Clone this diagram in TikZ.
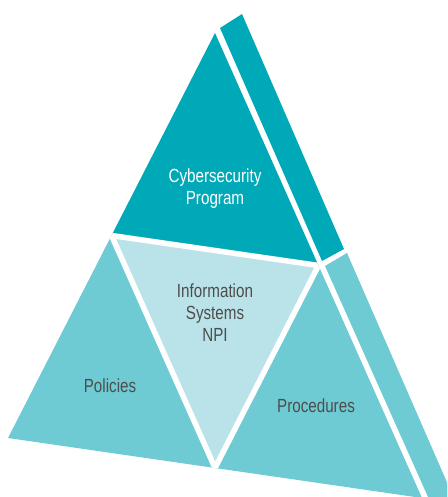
\documentclass[tikz,border=0pt]{standalone}
\usepackage{fontspec}
\setmainfont{Liberation Sans}[FakeStretch=0.8]
\definecolor{tealdark}{RGB}{0,169,183}
\definecolor{tealmid}{RGB}{110,203,211}
\definecolor{teallight}{RGB}{186,227,233}
\definecolor{labelgray}{RGB}{77,77,77}
\begin{document}
\begin{tikzpicture}[x=1pt,y=-1pt,
  gapline/.style={draw=white,line width=5.5pt,line join=round},
  darklabel/.style={text=labelgray,font=\fontsize{19}{22}\selectfont,align=center},
  lightlabel/.style={text=white,font=\fontsize{19}{22}\selectfont,align=center}]
  \useasboundingbox (0,0) rectangle (447,497);
  \clip (0,0) rectangle (447,497);
  % outer corners of the pyramid face and the midpoints of its sides
  \coordinate (A) at (215,33);
  \coordinate (B) at (8,438);
  \coordinate (C) at (422,498);
  \coordinate (mAB) at (111.5,235.5);
  \coordinate (mAC) at (318.5,265.5);
  \coordinate (mBC) at (215,468);
  % the four faces
  \fill[tealdark]  (A) -- (mAB) -- (mAC) -- cycle;
  \fill[tealmid]   (mAB) -- (B) -- (mBC) -- cycle;
  \fill[tealmid]   (mAC) -- (mBC) -- (C) -- cycle;
  \fill[teallight] (mAB) -- (mAC) -- (mBC) -- cycle;
  % white seams between the faces
  \begin{scope}
    \clip (A) -- (B) -- (C) -- cycle;
    \draw[gapline] (mAB) -- (mAC) -- (mBC) -- cycle;
  \end{scope}
  % side edges of the pyramid
  \fill[tealdark] (220,28) -- (242,14) -- (344,249) -- (322,261) -- cycle;
  \fill[tealmid]  (325,266) -- (347,253) -- (456,503) -- (428,497) -- cycle;
  % labels
  \node[lightlabel] (program) at (215,189) {Cybersecurity\\Program};
  \node[darklabel] (systems) at (215,313) {Information\\Systems\\NPI};
  \node[darklabel] (policies) at (110,386) {Policies};
  \node[darklabel] (procedures) at (316,406) {Procedures};
\end{tikzpicture}
\end{document}
